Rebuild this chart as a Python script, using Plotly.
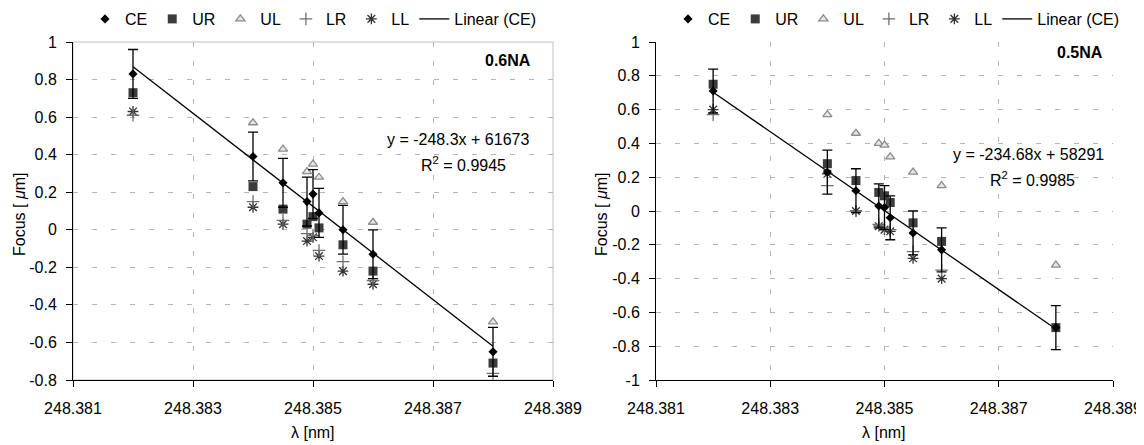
import numpy as np
import plotly.graph_objects as go

# ---------------- data ----------------
wavelength = [248.382, 248.384, 248.3845, 248.3849, 248.385, 248.3851, 248.3855, 248.386, 248.388]

# 0.6 NA panel
na06_ce = [0.83, 0.39, 0.25, 0.15, 0.19, 0.09, 0.00, -0.13, -0.65]
na06_ur = [0.73, 0.23, 0.11, 0.03, 0.07, 0.01, -0.08, -0.22, -0.71]
na06_ul = [None, 0.57, 0.43, 0.31, 0.35, 0.28, 0.15, 0.04, -0.49]
na06_lr = [0.61, 0.15, 0.05, -0.02, -0.03, -0.11, -0.17, -0.27, -0.765]
na06_ll = [0.63, 0.12, 0.03, -0.06, -0.04, -0.14, -0.22, -0.29, None]

# 0.5 NA panel
na05_ce = [0.71, 0.23, 0.12, 0.03, 0.02, -0.04, -0.13, -0.23, -0.69]
na05_ur = [0.75, 0.28, 0.18, 0.11, 0.09, 0.05, -0.07, -0.18, -0.69]
na05_ul = [None, 0.57, 0.46, 0.40, 0.39, 0.32, 0.23, 0.15, -0.32]
na05_lr = [0.57, 0.15, 0.00, -0.08, -0.10, -0.11, -0.24, -0.35, None]
na05_ll = [0.60, 0.22, 0.00, -0.09, -0.11, -0.12, -0.28, -0.40, None]

ce_error = 0.13

panel_labels = ["0.6NA", "0.5NA"]
equations = ["y = -248.3x + 61673", "y = -234.68x + 58291"]
r_squared = ["R<sup>2</sup> = 0.9945", "R<sup>2</sup> = 0.9985"]

x_ticks = [248.381, 248.383, 248.385, 248.387, 248.389]
x_tick_labels = ["248.381", "248.383", "248.385", "248.387", "248.389"]
y_ticks_06 = [-0.8, -0.6, -0.4, -0.2, 0, 0.2, 0.4, 0.6, 0.8, 1]
y_tick_labels_06 = ["-0.8", "-0.6", "-0.4", "-0.2", "0", "0.2", "0.4", "0.6", "0.8", "1"]
y_ticks_05 = [-1, -0.8, -0.6, -0.4, -0.2, 0, 0.2, 0.4, 0.6, 0.8, 1]
y_tick_labels_05 = ["-1", "-0.8", "-0.6", "-0.4", "-0.2", "0", "0.2", "0.4", "0.6", "0.8", "1"]

# ---------------- figure ----------------
# the page body has an 8px margin, so the figure is 8px smaller and all
# positions below are given in window pixels and shifted by that offset
OFF = 8
W, H = 1144 - OFF, 445 - OFF
FONT = "Liberation Sans, Arial, sans-serif"


def px_x(p):
    return (p - OFF) / W


def px_y(p):
    return 1 - (p - OFF) / H


fig = go.Figure()

panels = [
    dict(ce=na06_ce, ur=na06_ur, ul=na06_ul, lr=na06_lr, ll=na06_ll,
         xa="x", ya="y", legend="legend"),
    dict(ce=na05_ce, ur=na05_ur, ul=na05_ul, lr=na05_lr, ll=na05_ll,
         xa="x2", ya="y2", legend="legend2"),
]

x_arr = np.array(wavelength)
x0 = wavelength[0]
for p in panels:
    coef = np.polyfit(x_arr - x0, np.array(p["ce"]), 1)
    xl = np.array([x_arr.min(), x_arr.max()])
    yl = np.polyval(coef, xl - x0)
    common = dict(xaxis=p["xa"], yaxis=p["ya"], legend=p["legend"])
    fig.add_trace(go.Scatter(x=xl, y=yl, mode="lines", name="Linear (CE)",
                             line=dict(color="black", width=1.3),
                             legendrank=6, **common))
    fig.add_trace(go.Scatter(x=wavelength, y=p["ll"], mode="markers", name="LL",
                             marker=dict(symbol="asterisk-open", size=9, color="#333333",
                                         line=dict(width=1.3)),
                             legendrank=5, **common))
    fig.add_trace(go.Scatter(x=wavelength, y=p["lr"], mode="markers", name="LR",
                             marker=dict(symbol="cross-thin-open", size=9, color="#6e6e6e",
                                         line=dict(width=1.3)),
                             legendrank=4, **common))
    fig.add_trace(go.Scatter(x=wavelength, y=p["ul"], mode="markers", name="UL",
                             marker=dict(symbol="triangle-up", size=8, color="#e6e6e6",
                                         line=dict(color="#8c8c8c", width=1.3)),
                             legendrank=3, **common))
    fig.add_trace(go.Scatter(x=wavelength, y=p["ur"], mode="markers", name="UR",
                             marker=dict(symbol="square", size=9, color="#3c3c3c"),
                             legendrank=2, **common))
    fig.add_trace(go.Scatter(x=wavelength, y=p["ce"], mode="markers", name="CE",
                             marker=dict(symbol="diamond", size=7, color="black"),
                             error_y=dict(type="constant", value=ce_error, color="black",
                                          thickness=1.3, width=5),
                             legendrank=1, **common))

axis_common = dict(showline=True, linecolor="black", linewidth=1, ticks="outside",
                   ticklen=6, tickcolor="black", tickwidth=1, showgrid=True,
                   gridcolor="#b5b5b5", griddash="5px,14px", gridwidth=1,
                   zeroline=False, automargin=False,
                   tickfont=dict(size=16, color="black", family=FONT))

left_dom = [px_x(73), px_x(553)]
right_dom = [px_x(656), px_x(1113)]
y_dom = [px_y(380), px_y(42)]

legend_common = dict(orientation="h", xref="container", yref="container",
                     xanchor="left", yanchor="middle",
                     font=dict(size=16, family=FONT), itemwidth=30, traceorder="normal",
                     bgcolor="rgba(0,0,0,0)")

fig.update_layout(
    width=W, height=H, autosize=False,
    margin=dict(l=0, r=0, t=0, b=0, autoexpand=False),
    paper_bgcolor="white", plot_bgcolor="white",
    font=dict(family=FONT, size=16, color="black"),
    showlegend=True,
    xaxis=dict(domain=left_dom, anchor="y", range=[248.381, 248.389],
               tickvals=x_ticks, ticktext=x_tick_labels, ticklabelstandoff=8, **axis_common),
    yaxis=dict(domain=y_dom, anchor="x", range=[-0.8, 1],
               tickvals=y_ticks_06, ticktext=y_tick_labels_06, ticklabelstandoff=6, **axis_common),
    xaxis2=dict(domain=right_dom, anchor="y2", range=[248.381, 248.389],
                tickvals=x_ticks, ticktext=x_tick_labels, ticklabelstandoff=8, **axis_common),
    yaxis2=dict(domain=y_dom, anchor="x2", range=[-1, 1],
                tickvals=y_ticks_05, ticktext=y_tick_labels_05, ticklabelstandoff=6, **axis_common),
    legend=dict(x=px_x(85), y=px_y(19), **legend_common),
    legend2=dict(x=px_x(668), y=px_y(19), **legend_common),
)

# light plot-area border on the left panel
fig.add_shape(type="rect", xref="x domain", yref="y domain", x0=0, x1=1, y0=0, y1=1,
              line=dict(color="#c0c0c0", width=1), layer="below")

ann = []
# panel labels
ann.append(dict(text="<b>" + panel_labels[0] + "</b>", x=px_x(533), y=px_y(61),
                xanchor="right", yanchor="middle"))
ann.append(dict(text="<b>" + panel_labels[1] + "</b>", x=px_x(1105), y=px_y(52),
                xanchor="right", yanchor="middle"))
# equations
ann.append(dict(text=equations[0], x=px_x(458), y=px_y(139), xanchor="center", yanchor="middle"))
ann.append(dict(text=r_squared[0], x=px_x(463), y=px_y(164), xanchor="center", yanchor="middle"))
ann.append(dict(text=equations[1], x=px_x(1028), y=px_y(154), xanchor="center", yanchor="middle"))
ann.append(dict(text=r_squared[1], x=px_x(1032), y=px_y(179), xanchor="center", yanchor="middle"))
# axis titles
for cx in (313, 884):
    ann.append(dict(text="λ [nm]", x=px_x(cx), y=px_y(432), xanchor="center", yanchor="middle"))
for cx in (20, 602):
    ann.append(dict(text="Focus [ <i>μ</i>m]", x=px_x(cx), y=px_y(215), textangle=-90,
                    xanchor="center", yanchor="middle"))

for a in ann:
    a.update(xref="paper", yref="paper", showarrow=False,
             font=dict(size=16, family=FONT, color="black"))
    fig.add_annotation(**a)

fig.write_html("out.html")
